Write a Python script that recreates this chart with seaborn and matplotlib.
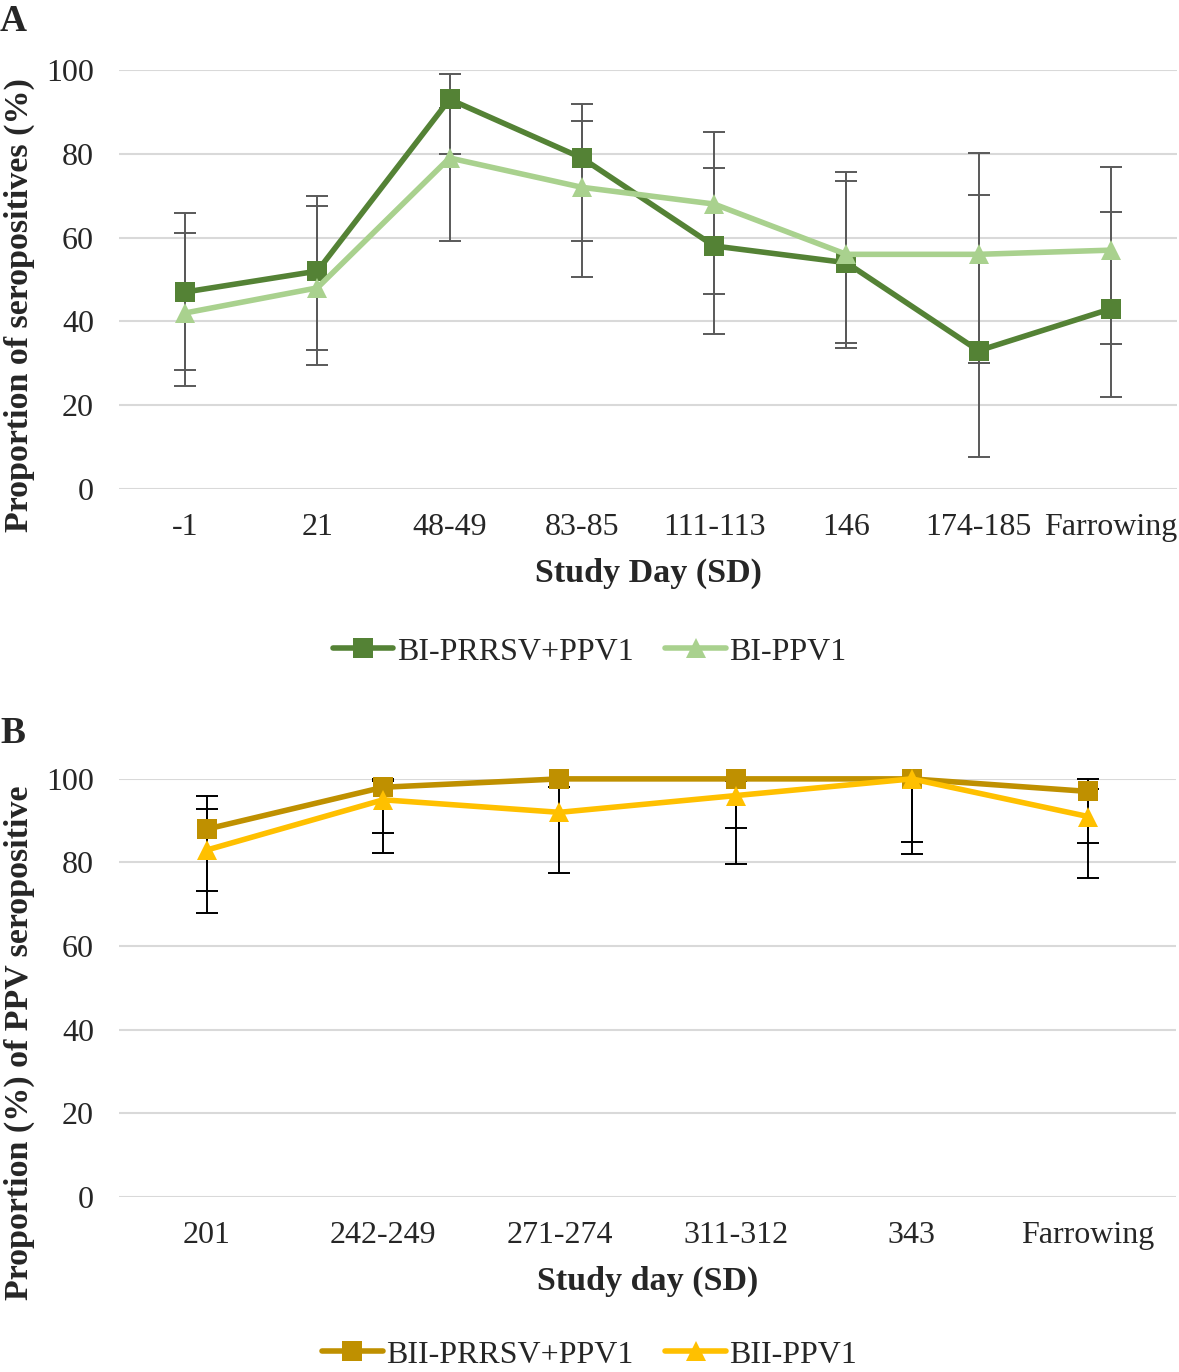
import numpy as np
import pandas as pd
import matplotlib
matplotlib.use("Agg")
import matplotlib.pyplot as plt
from matplotlib.lines import Line2D
import seaborn as sns

# panel A data
a_days = ["-1", "21", "48-49", "83-85", "111-113", "146", "174-185", "Farrowing"]
a_combo = [47, 52, 93, 79, 58, 54, 33, 43]
a_combo_lo = [28.4, 33.2, 80, 59.2, 37.0, 33.6, 7.6, 22.0]
a_combo_hi = [65.9, 69.9, 99.0, 91.9, 76.6, 73.5, 70.2, 66.1]
a_ppv = [42, 48, 79, 72, 68, 56, 56, 57]
a_ppv_lo = [24.6, 29.6, 59.2, 50.6, 46.5, 34.8, 30.1, 34.6]
a_ppv_hi = [61.1, 67.5, 91, 87.8, 85.2, 75.7, 80.2, 76.8]

# panel B data
b_days = ["201", "242-249", "271-274", "311-312", "343", "Farrowing"]
b_combo = [88, 98, 100, 100, 100, 97]
b_combo_lo = [73.2, 87.1, 100, 88.3, 85.0, 84.7]
b_combo_hi = [95.9, 100, 100, 100, 100, 100]
b_ppv = [83, 95, 92, 96, 100, 91]
b_ppv_lo = [67.9, 82.3, 77.5, 79.7, 82.1, 76.3]
b_ppv_hi = [92.8, 99.5, 98, 99.5, 100, 97.5]

sns.set_style("white")
plt.rcParams['font.family'] = ['Liberation Serif', 'DejaVu Serif']

FS = 23
LFS = 24.5
LW = 4.0
MS = 15


def draw_panel(ax, days, names, series, colors, ecolor, xlabel, ylabel, ylab_y):
    rows = []
    for name, (vals, lo, hi) in zip(names, series):
        for d, v in zip(days, vals):
            rows.append({"day": d, "value": v, "group": name})
    df = pd.DataFrame(rows)

    # error bars first, behind the lines
    for vals, lo, hi in series:
        vals = np.array(vals, dtype=float)
        yerr = [vals - np.array(lo), np.array(hi) - vals]
        ax.errorbar(np.arange(len(days)), vals, yerr=yerr, fmt='none',
                    ecolor=ecolor, elinewidth=1.4, capsize=8, capthick=1.4,
                    zorder=1.5, clip_on=False)

    sns.pointplot(data=df, x="day", y="value", hue="group", order=days,
                  hue_order=names, palette=colors, markers=["s", "^"],
                  errorbar=None, legend=False, ax=ax,
                  markersize=MS, linewidth=LW, markeredgewidth=0)
    for ln in ax.lines:
        ln.set_clip_on(False)
        ln.set_zorder(3)

    ax.set_ylim(0, 100)
    ax.set_yticks([0, 20, 40, 60, 80, 100])
    ax.grid(axis='y', color='#d9d9d9', linewidth=1.5)
    ax.grid(axis='x', visible=False)
    ax.set_axisbelow(True)
    sns.despine(ax=ax, left=True, bottom=True)
    ax.tick_params(axis='both', length=0, labelsize=FS)
    ax.tick_params(axis='y', pad=18)
    ax.tick_params(axis='x', pad=17)
    ax.set_xlabel(xlabel, fontsize=LFS, fontweight='bold', labelpad=12)
    ax.set_ylabel(ylabel, fontsize=LFS, fontweight='bold')
    ax.yaxis.set_label_coords(-0.079, ylab_y)


fig = plt.figure(figsize=(11.79, 13.72), dpi=100)
ax_a = fig.add_axes([0.1009, 0.6436, 0.8974, 0.3054])
ax_b = fig.add_axes([0.1009, 0.1276, 0.8966, 0.3047])

green_dark = "#548235"
green_light = "#a9d18e"
gold_dark = "#bf9000"
gold = "#ffc000"

draw_panel(ax_a, a_days, ["BI-PRRSV+PPV1", "BI-PPV1"],
           [(a_combo, a_combo_lo, a_combo_hi), (a_ppv, a_ppv_lo, a_ppv_hi)],
           [green_dark, green_light], "#595959",
           "Study Day (SD)", "Proportion of seropositives (%)", 0.44)
draw_panel(ax_b, b_days, ["BII-PRRSV+PPV1", "BII-PPV1"],
           [(b_combo, b_combo_lo, b_combo_hi), (b_ppv, b_ppv_lo, b_ppv_hi)],
           [gold_dark, gold], "black",
           "Study day (SD)", "Proportion (%) of PPV seropositive", 0.37)

fig.text(0.0, 0.9774, "A", fontsize=27, fontweight='bold', va='baseline')
fig.text(0.0, 0.4585, "B", fontsize=27, fontweight='bold', va='baseline')


def legend_at(names, colors, y):
    handles = [Line2D([], [], color=colors[0], lw=LW, marker='s', markersize=MS, markeredgewidth=0),
               Line2D([], [], color=colors[1], lw=LW, marker='^', markersize=MS, markeredgewidth=0)]
    fig.legend(handles, names, loc='center', bbox_to_anchor=(0.5, y), ncol=2,
               frameon=False, fontsize=FS, handlelength=1.9, handletextpad=0.1,
               columnspacing=1.0, borderpad=0.1)


legend_at(["BI-PRRSV+PPV1", "BI-PPV1"], [green_dark, green_light], 0.5248)
legend_at(["BII-PRRSV+PPV1", "BII-PPV1"], [gold_dark, gold], 0.0125)

fig.savefig("out.png", dpi=100)
